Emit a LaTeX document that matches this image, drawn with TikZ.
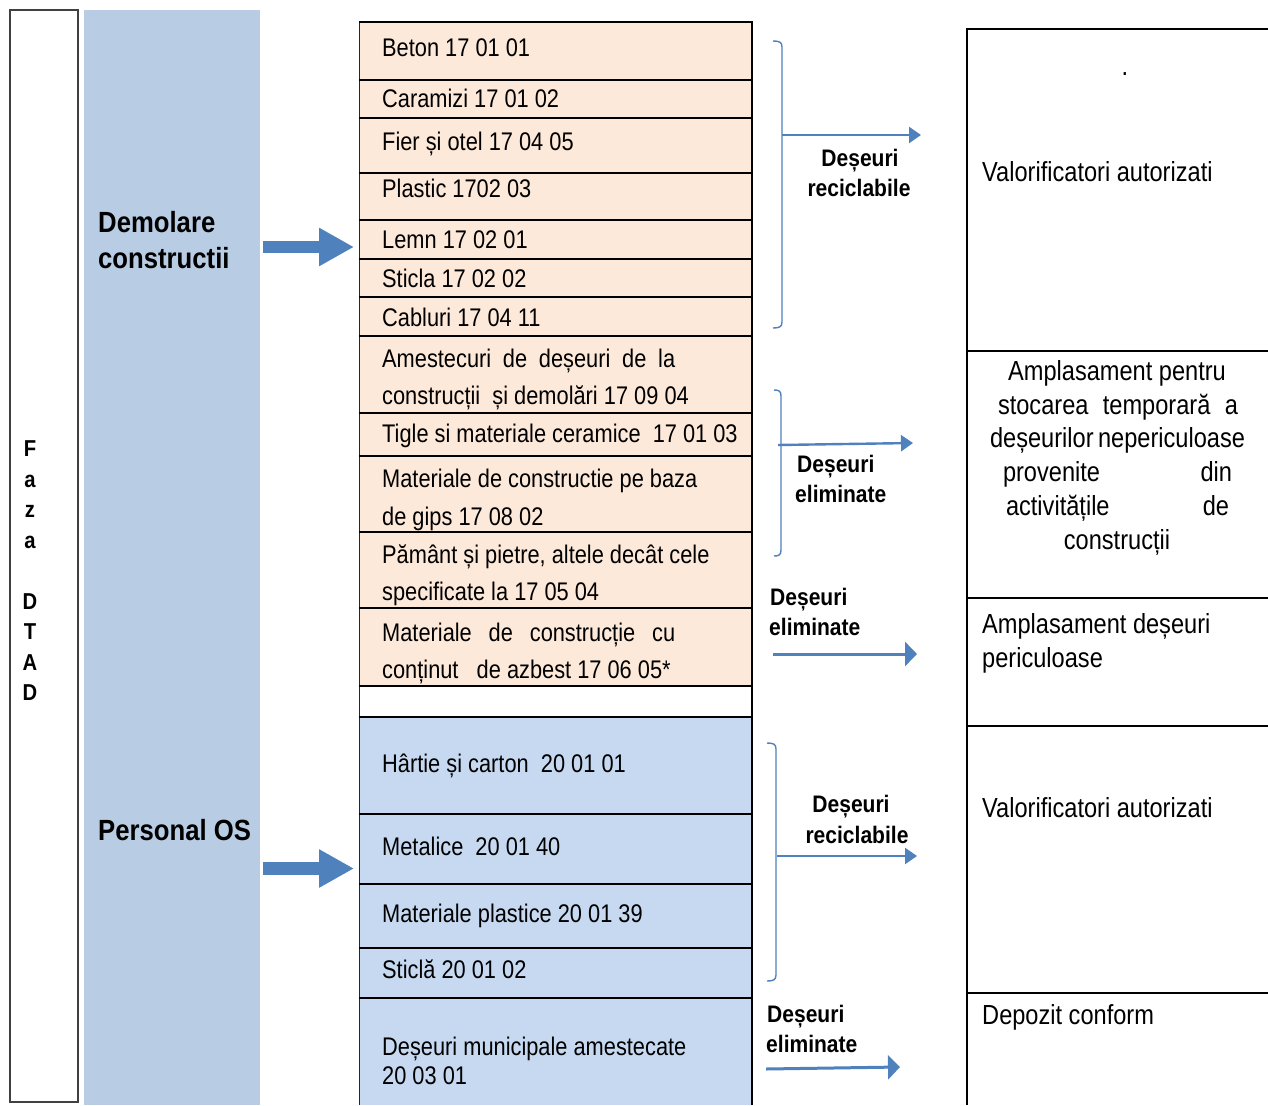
\documentclass[tikz,border=0pt]{standalone}
\usepackage{fontspec}
\setmainfont{Liberation Sans}
\newfontfamily\nfam{Liberation Sans}[FakeStretch=0.855]
\newfontfamily\bfam{Liberation Sans}[FakeStretch=0.88]
\usetikzlibrary{arrows.meta}
\definecolor{peach}{HTML}{FDE9D9}
\definecolor{rowblue}{HTML}{C6D9F1}
\definecolor{colblue}{HTML}{B8CCE4}
\definecolor{arrowblue}{HTML}{4F81BD}
\begin{document}
\begin{tikzpicture}[x=1pt,y=-1pt,
  listtxt/.style={anchor=base west, inner sep=0pt, font=\nfam\fontsize{25.5}{30}\selectfont},
  rtxt/.style={anchor=base west, inner sep=0pt, font=\nfam\fontsize{27.6}{34}\selectfont},
  rctr/.style={anchor=base, inner sep=0pt, font=\nfam\fontsize{27.6}{34}\selectfont},
  bigbold/.style={anchor=base west, inner sep=0pt, font=\bfam\bfseries\fontsize{29.2}{36}\selectfont},
  lblw/.style={anchor=base west, inner sep=0pt, font=\bfam\bfseries\fontsize{23.9}{30}\selectfont},
  lblc/.style={anchor=base, inner sep=0pt, font=\bfam\bfseries\fontsize{23.9}{30}\selectfont},
  sepline/.style={line width=2pt, black},
  bracket/.style={draw=arrowblue, line width=1.4pt},
  thinarrow/.style={draw=arrowblue, line width=2.4pt, -{Triangle[length=12pt,width=16pt]}},
  widearrow/.style={draw=arrowblue, line width=3pt, -{Triangle[length=12pt,width=24pt]}},
  blockarrow/.style={draw=arrowblue, line width=12.5pt, -{Triangle[length=35pt,width=36pt]}}
]
\useasboundingbox (0,0) rectangle (1268,1105);
\fill[white] (0,0) rectangle (1268,1105);

% left phase box
\draw[line width=1.4pt, black!75] (10,10) rectangle (78,1102);
\node[align=center, inner sep=0pt, font=\bfam\bfseries\fontsize{23}{30.5}\selectfont] (faza) at (30,571)
  {F\\a\\z\\a\\[30.5pt]D\\T\\A\\D};

% blue column
\fill[colblue] (84,10) rectangle (260,1105);
\node[bigbold] (dem1) at (98,232) {Demolare};
\node[bigbold] (dem2) at (98,268) {constructii};
\node[bigbold] (pers) at (98,840) {Personal OS};

% list fills
\fill[peach] (360,22) rectangle (752,686);
\fill[white] (360,686) rectangle (752,717);
\fill[rowblue] (360,717) rectangle (752,1105);
% list borders
\draw[line width=1.4pt, black!85] (359.5,22) -- (359.5,1105);
\draw[sepline] (752,21) -- (752,1105);
\foreach \yy in {22,80,118,173,220,259,297,336,413,456,532,608,686,717,814,884,948,998}
  \draw[sepline] (359,\yy) -- (753,\yy);

% list texts
\node[listtxt] (r1) at (382,57) {Beton 17 01 01};
\node[listtxt] (r2) at (382,108) {Caramizi 17 01 02};
\node[listtxt] (r3) at (382,150) {Fier și otel 17 04 05};
\node[listtxt] (r4) at (382,197) {Plastic 1702 03};
\node[listtxt] (r5) at (382,248) {Lemn 17 02 01};
\node[listtxt] (r6) at (382,287) {Sticla 17 02 02};
\node[listtxt] (r7) at (382,326) {Cabluri 17 04 11};
\node[listtxt] (r8a) at (382,367) {\makebox[293pt][s]{Amestecuri de deșeuri de la}};
\node[listtxt] (r8b) at (382,404) {construcții\ \ și demolări 17 09 04};
\node[listtxt] (r9) at (382,442) {Tigle si materiale ceramice\ \ 17 01 03};
\node[listtxt] (r10a) at (382,487) {Materiale de constructie pe baza};
\node[listtxt] (r10b) at (382,525) {de gips 17 08 02};
\node[listtxt] (r11a) at (382,563) {Pământ și pietre, altele decât cele};
\node[listtxt] (r11b) at (382,600) {specificate la 17 05 04};
\node[listtxt] (r12a) at (382,641) {\makebox[293pt][s]{Materiale de construcție cu}};
\node[listtxt] (r12b) at (382,678) {conținut\ \ \ de azbest 17 06 05*};
\node[listtxt] (r13) at (382,772) {Hârtie și carton\ \ 20 01 01};
\node[listtxt] (r14) at (382,855) {Metalice\ \ 20 01 40};
\node[listtxt] (r15) at (382,922) {Materiale plastice 20 01 39};
\node[listtxt] (r16) at (382,978) {Sticlă 20 01 02};
\node[listtxt] (r17a) at (382,1055) {Deșeuri municipale amestecate};
\node[listtxt] (r17b) at (382,1084) {20 03 01};

% block arrows
\coordinate (ba1s) at (263,247);
\coordinate (ba1e) at (354,247);
\draw[blockarrow] (ba1s) -- (ba1e);
\coordinate (ba2s) at (263,868.5);
\coordinate (ba2e) at (354,868.5);
\draw[blockarrow] (ba2s) -- (ba2e);

% brackets
\draw[bracket] (773,41) .. controls (779,41) and (782,42) .. (782,47) -- (782,322) .. controls (782,327) and (779,328) .. (773,328);
\draw[bracket] (774,390) .. controls (779,390) and (781,391) .. (781,396) -- (781,550) .. controls (781,555) and (779,556) .. (774,556);
\draw[bracket] (767,743) .. controls (773,743) and (776,744) .. (776,749) -- (776,975) .. controls (776,980) and (773,981) .. (767,981);

% arrows to destinations
\coordinate (s1) at (782,135);  \coordinate (e1) at (921,135);
\coordinate (s2) at (778,445);  \coordinate (e2) at (913,443);
\coordinate (s3) at (773,654);  \coordinate (e3) at (917,654);
\coordinate (s4) at (777,856);  \coordinate (e4) at (917,856);
\coordinate (s5) at (766,1069); \coordinate (e5) at (900,1067);
\draw[thinarrow] (s1) -- (e1);
\draw[thinarrow] (s2) -- (e2);
\draw[widearrow] (s3) -- (e3);
\draw[thinarrow] (s4) -- (e4);
\draw[widearrow] (s5) -- (e5);

% labels
\node[lblc] (l1a) at (860,166) {Deșeuri};
\node[lblc] (l1b) at (859,196) {reciclabile};
\node[lblw] (l2a) at (797,472) {Deșeuri};
\node[lblw] (l2b) at (795,502) {eliminate};
\node[lblw] (l3a) at (770,605) {Deșeuri};
\node[lblw] (l3b) at (769,635) {eliminate};
\node[lblc] (l4a) at (851,812) {Deșeuri};
\node[lblc] (l4b) at (857,843) {reciclabile};
\node[lblw] (l5a) at (767,1022) {Deșeuri};
\node[lblw] (l5b) at (766,1052) {eliminate};

% right column
\draw[sepline] (967,28) -- (967,1105);
\foreach \yy in {29,351,598,726,993}
  \draw[sepline] (966,\yy) -- (1268,\yy);
\node[rctr] (dot) at (1125,76) {.};
\node[rtxt] (v1) at (982,181) {Valorificatori autorizati};
\node[rctr] (am1) at (1117,380) {Amplasament pentru};
\node[rctr] (am2) at (1118,414) {\makebox[240pt][s]{stocarea temporară a}};
\node[rctr] (am3) at (1117.5,447) {\makebox[255pt][s]{deșeurilor nepericuloase}};
\node[rctr] (am4) at (1117.5,481) {\makebox[229pt][s]{provenite din}};
\node[rctr] (am5) at (1117.5,515) {\makebox[223pt][s]{activitățile de}};
\node[rctr] (am6) at (1117,549) {construcții};
\node[rtxt] (p1) at (982,633) {Amplasament deșeuri};
\node[rtxt] (p2) at (982,667) {periculoase};
\node[rtxt] (v2) at (982,817) {Valorificatori autorizati};
\node[rtxt] (dc) at (982,1024) {Depozit conform};
\end{tikzpicture}
\end{document}
